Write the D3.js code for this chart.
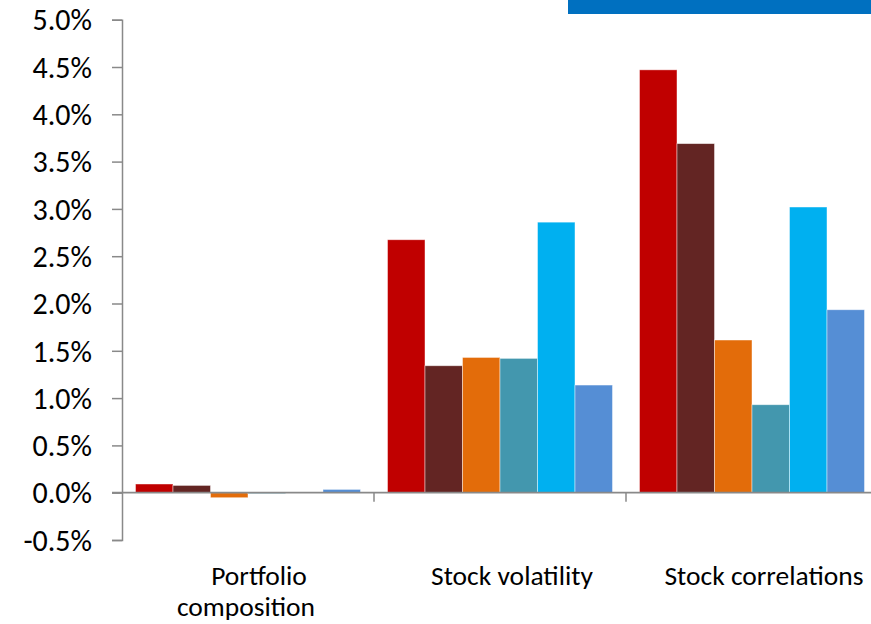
<!DOCTYPE html>
<html>
<head>
<meta charset="utf-8">
<script src="https://cdn.jsdelivr.net/npm/d3@7/dist/d3.min.js"></script>
<style>
  html, body { margin: 0; padding: 0; background: #fff; }
  svg { display: block; }
  text { font-family: Calibri, Carlito, Lato, sans-serif; fill: #000; }
</style>
</head>
<body>
<svg id="chart" width="871" height="624"></svg>
<script>
// Categories (each entry lists the lines of its axis label)
const categories = ["Portfolio composition", "Stock volatility", "Stock correlations"];
const categoryLines = [["Portfolio", "composition"], ["Stock volatility"], ["Stock correlations"]];

// Six series, values in percent per category
const seriesNames = ["Series 1", "Series 2", "Series 3", "Series 4", "Series 5", "Series 6"];
const seriesColors = ["#C00000", "#632523", "#E36C0A", "#4397AE", "#00B0F0", "#558ED5"];
const series1 = [0.092, 2.674, 4.47];
const series2 = [0.077, 1.342, 3.69];
const series3 = [-0.053, 1.43, 1.614];
const series4 = [-0.010, 1.42, 0.93];
const series5 = [0.0, 2.86, 3.02];
const series6 = [0.035, 1.138, 1.934];

// Value axis ticks (percent)
const yTicks = [-0.5, 0.0, 0.5, 1.0, 1.5, 2.0, 2.5, 3.0, 3.5, 4.0, 4.5, 5.0];

const seriesValues = [series1, series2, series3, series4, series5, series6];

const svg = d3.select("#chart");
const axisColor = "#898989";

const plotLeft = 122, plotRight = 878;
const x0 = d3.scaleBand().domain(categories).range([plotLeft, plotRight]).paddingInner(0).paddingOuter(0);
const x1 = d3.scaleBand().domain(seriesNames).range([0, x0.bandwidth()]).paddingInner(0).paddingOuter(0.36);
const y = d3.scaleLinear().domain([-0.5, 5.0]).range([540, 19.7]);

// Banner strip along the top edge
svg.append("rect")
  .attr("x", 568).attr("y", 0).attr("width", 303).attr("height", 14)
  .attr("fill", "#0070C0");

// Bars
const groups = svg.append("g").selectAll("g")
  .data(categories)
  .join("g")
  .attr("transform", d => `translate(${x0(d)},0)`);

groups.selectAll("rect")
  .data((c, ci) => seriesNames.map((s, si) => ({ s, v: seriesValues[si][ci], color: seriesColors[si] })))
  .join("rect")
  .filter(d => d.v !== 0)
  .attr("x", d => x1(d.s))
  .attr("width", x1.bandwidth())
  .attr("y", d => Math.min(y(d.v), y(0)))
  .attr("height", d => Math.abs(y(d.v) - y(0)))
  .attr("fill", d => d.color)
  .attr("stroke", "rgba(255,255,255,0.55)")
  .attr("stroke-width", 0.8);

// Value axis
const yAxis = d3.axisLeft(y)
  .tickValues(yTicks)
  .tickSize(10)
  .tickPadding(20)
  .tickFormat(d => d.toFixed(1) + "%");

const yg = svg.append("g")
  .attr("transform", `translate(${plotLeft},0)`)
  .call(yAxis);
yg.select(".domain").attr("stroke", axisColor).attr("stroke-width", 1.5);
yg.selectAll(".tick line").attr("stroke", axisColor).attr("stroke-width", 1.5);
yg.selectAll(".tick text")
  .style("font-size", "30px")
  .attr("dy", "0.34em")
  .attr("fill", "#000");

// Category axis along zero
const xg = svg.append("g").attr("transform", `translate(0,${y(0)})`);
xg.append("line")
  .attr("x1", plotLeft - 10).attr("x2", 871)
  .attr("stroke", axisColor).attr("stroke-width", 1.8);
xg.selectAll("line.ctick")
  .data(categories.slice(1))
  .join("line")
  .attr("class", "ctick")
  .attr("x1", d => x0(d)).attr("x2", d => x0(d))
  .attr("y1", 0).attr("y2", 9)
  .attr("stroke", axisColor).attr("stroke-width", 1.5);

// Category labels
const lineShift = [[11, -2], [12], [12]];
const labels = svg.append("g").selectAll("text")
  .data(categories)
  .join("text")
  .attr("text-anchor", "middle")
  .style("font-size", "27.5px");
labels.each(function (c, i) {
  const cx = x0(c) + x0.bandwidth() / 2;
  d3.select(this).selectAll("tspan")
    .data(categoryLines[i])
    .join("tspan")
    .attr("x", (d, j) => cx + lineShift[i][j])
    .attr("y", (d, j) => 585 + j * 31)
    .text(d => d);
});
</script>
</body>
</html>
